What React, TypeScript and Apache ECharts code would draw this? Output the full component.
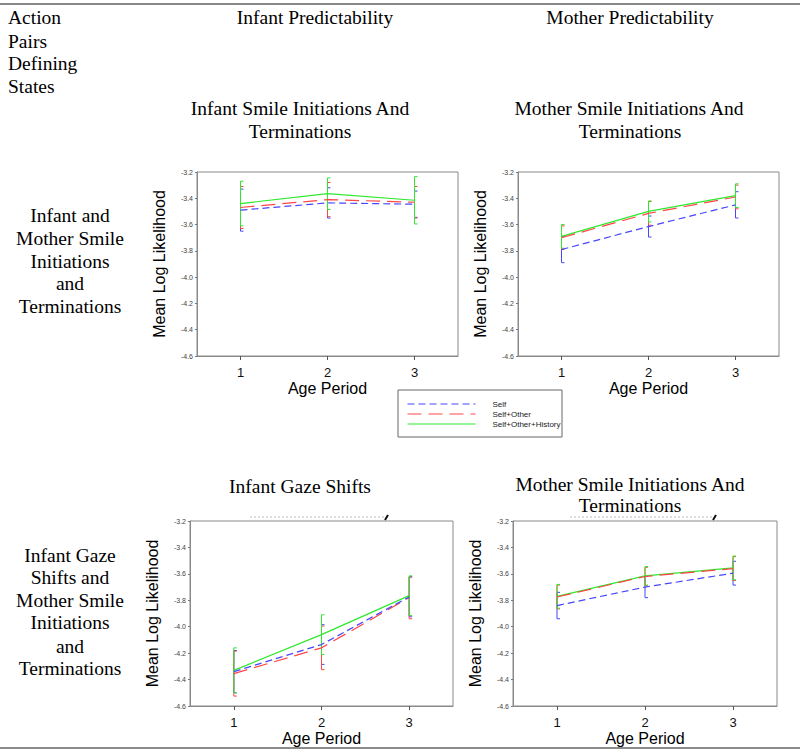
import React, { useEffect, useRef } from "react";
import * as echarts from "echarts";

const ageCategories = ["1", "2", "3"];
const seriesNames = ["Self", "Self+Other", "Self+Other+History"];
const seriesColors = ["#4646ff", "#ff4646", "#2ee82e"];

// Panel 1: Infant predictability, infant smile initiations/terminations
const p1Self = [-3.49, -3.435, -3.445];
const p1SelfErr = [0.16, 0.115, 0.1];
const p1Other = [-3.47, -3.41, -3.43];
const p1OtherErr = [0.16, 0.13, 0.12];
const p1Hist = [-3.44, -3.365, -3.415];
const p1HistErr = [0.17, 0.12, 0.18];

// Panel 2: Mother predictability, mother smile initiations/terminations
const p2Self = [-3.79, -3.615, -3.45];
const p2SelfErr = [0.1, 0.08, 0.1];
const p2Other = [-3.7, -3.515, -3.39];
const p2OtherErr = [0.09, 0.09, 0.09];
const p2Hist = [-3.69, -3.5, -3.38];
const p2HistErr = [0.09, 0.08, 0.09];

// Panel 3: Infant predictability, infant gaze shifts
const p3Self = [-4.34, -4.135, -3.775];
const p3SelfErr = [0.16, 0.15, 0.15];
const p3Other = [-4.355, -4.16, -3.78];
const p3OtherErr = [0.17, 0.165, 0.16];
const p3Hist = [-4.33, -4.06, -3.765];
const p3HistErr = [0.17, 0.15, 0.15];

// Panel 4: Mother predictability, mother smile initiations/terminations
const p4Self = [-3.84, -3.7, -3.595];
const p4SelfErr = [0.1, 0.08, 0.09];
const p4Other = [-3.775, -3.62, -3.56];
const p4OtherErr = [0.09, 0.07, 0.09];
const p4Hist = [-3.77, -3.615, -3.555];
const p4HistErr = [0.09, 0.07, 0.09];

const yMin = -4.6;
const yMax = -3.2;
const yStep = 0.2;

const panels = [
  { means: [p1Self, p1Other, p1Hist], errs: [p1SelfErr, p1OtherErr, p1HistErr], grid: { left: 197, top: 172, width: 261, height: 184 } },
  { means: [p2Self, p2Other, p2Hist], errs: [p2SelfErr, p2OtherErr, p2HistErr], grid: { left: 518, top: 172, width: 261, height: 184 } },
  { means: [p3Self, p3Other, p3Hist], errs: [p3SelfErr, p3OtherErr, p3HistErr], grid: { left: 190, top: 521, width: 263, height: 185 } },
  { means: [p4Self, p4Other, p4Hist], errs: [p4SelfErr, p4OtherErr, p4HistErr], grid: { left: 513, top: 521, width: 264, height: 185 } },
];

const dashes: any[] = [[7, 4], [14, 7], "solid"];

const serif = "'Liberation Serif', 'Times New Roman', serif";
const sans = "'Liberation Sans', Arial, sans-serif";

function txt(text: string, x: number, y: number, align = "center", size = 19.5) {
  return {
    type: "text",
    x,
    y,
    style: { text, fill: "#000", font: `${size}px ${serif}`, textAlign: align, textVerticalAlign: "middle" },
  };
}

export default function App() {
  const ref = useRef<HTMLDivElement>(null);
  useEffect(() => {
    if (!ref.current) return;
    const chart = echarts.init(ref.current, null, { renderer: "svg" });

    const grids: any[] = [];
    const xAxes: any[] = [];
    const yAxes: any[] = [];
    const series: any[] = [];

    panels.forEach((p, pi) => {
      grids.push({ ...p.grid, show: true, borderColor: "#8a8a8a", borderWidth: 1, containLabel: false });
      xAxes.push({
        type: "category",
        gridIndex: pi,
        data: ageCategories,
        boundaryGap: true,
        axisLine: { show: true, lineStyle: { color: "#8a8a8a", width: 1 } },
        axisTick: { show: true, alignWithLabel: true, length: 4, lineStyle: { color: "#555" } },
        axisLabel: { fontSize: 13, margin: 10, color: "#111", fontFamily: sans },
        splitLine: { show: false },
        name: "Age Period",
        nameLocation: "middle",
        nameGap: 24,
        nameTextStyle: { fontSize: 16, color: "#000", fontFamily: sans },
      });
      yAxes.push({
        type: "value",
        gridIndex: pi,
        min: yMin,
        max: yMax,
        interval: yStep,
        axisLine: { show: true, lineStyle: { color: "#8a8a8a", width: 1 } },
        axisTick: { show: true, length: 2, lineStyle: { color: "#777" } },
        axisLabel: { fontSize: 7, margin: 4, color: "#444", fontFamily: sans, formatter: (v: number) => v.toFixed(1) },
        splitLine: { show: false },
        name: "Mean Log Likelihood",
        nameLocation: "middle",
        nameGap: 30,
        nameTextStyle: { fontSize: 16, color: "#000", fontFamily: sans },
      });
      p.means.forEach((m, si) => {
        series.push({
          type: "custom",
          name: "err" + pi + "_" + si,
          xAxisIndex: pi,
          yAxisIndex: pi,
          data: m.map((v, i) => [i, v, p.errs[si][i]]),
          encode: { x: 0, y: 1 },
          z: 1,
          renderItem: (params: any, api: any) => {
            const idx = api.value(0);
            const mean = api.value(1);
            const e = api.value(2);
            const top = api.coord([idx, mean + e]);
            const bot = api.coord([idx, mean - e]);
            const st = { stroke: seriesColors[si], lineWidth: 1 };
            return {
              type: "group",
              children: [
                { type: "line", shape: { x1: top[0], y1: top[1], x2: bot[0], y2: bot[1] }, style: st },
                { type: "line", shape: { x1: top[0], y1: top[1], x2: top[0] + 3, y2: top[1] }, style: st },
                { type: "line", shape: { x1: bot[0], y1: bot[1], x2: bot[0] + 3, y2: bot[1] }, style: st },
              ],
            };
          },
        });
        series.push({
          type: "line",
          name: seriesNames[si],
          xAxisIndex: pi,
          yAxisIndex: pi,
          data: m,
          symbol: "none",
          z: 2 + (2 - si),
          lineStyle: { color: seriesColors[si], width: 1.2, type: dashes[si] },
          itemStyle: { color: seriesColors[si] },
        });
      });
    });

    chart.setOption({
      animation: false,
      backgroundColor: "#fff",
      grid: grids,
      xAxis: xAxes,
      yAxis: yAxes,
      series,
      legend: {
        data: seriesNames,
        orient: "vertical",
        left: 407,
        top: 400,
        itemWidth: 68,
        itemHeight: 8,
        itemGap: 2,
        padding: 0,
        selectedMode: false,
        itemStyle: { opacity: 0 },
        lineStyle: { width: 1 },
        textStyle: { fontSize: 8, lineHeight: 8, color: "#222", fontFamily: sans, padding: [0, 0, 0, 12] },
      },
      graphic: [
        { type: "line", shape: { x1: 0, y1: 4, x2: 800, y2: 4 }, style: { stroke: "#888", lineWidth: 2 } },
        { type: "line", shape: { x1: 0, y1: 748, x2: 800, y2: 748 }, style: { stroke: "#666", lineWidth: 1.5 } },
        { type: "rect", shape: { x: 398, y: 390, width: 164, height: 47 }, style: { fill: "none", stroke: "#666", lineWidth: 1 } },
        txt("Action", 8, 17, "left"),
        txt("Pairs", 8, 41, "left"),
        txt("Defining", 8, 63, "left"),
        txt("States", 8, 86, "left"),
        txt("Infant Predictability", 315, 17),
        txt("Mother Predictability", 630, 17),
        txt("Infant Smile Initiations And", 300, 108),
        txt("Terminations", 300, 131),
        txt("Mother Smile Initiations And", 629, 108),
        txt("Terminations", 630, 131),
        txt("Infant and", 70, 215),
        txt("Mother Smile", 70, 238),
        txt("Initiations", 70, 261),
        txt("and", 70, 283),
        txt("Terminations", 70, 306),
        txt("Infant Gaze Shifts", 300, 486),
        txt("Mother Smile Initiations And", 630, 484),
        txt("Terminations", 630, 505),
        txt("Infant Gaze", 70, 555),
        txt("Shifts and", 70, 577),
        txt("Mother Smile", 70, 600),
        txt("Initiations", 70, 622),
        txt("and", 70, 646),
        txt("Terminations", 70, 668),
        { type: "line", shape: { x1: 250, y1: 517, x2: 386, y2: 517 }, style: { stroke: "#bbb", lineWidth: 1, lineDash: [2, 2] } },
        { type: "line", shape: { x1: 385, y1: 520, x2: 388, y2: 515 }, style: { stroke: "#111", lineWidth: 2 } },
        { type: "line", shape: { x1: 570, y1: 517, x2: 713, y2: 517 }, style: { stroke: "#bbb", lineWidth: 1, lineDash: [2, 2] } },
        { type: "line", shape: { x1: 713, y1: 520, x2: 716, y2: 515 }, style: { stroke: "#111", lineWidth: 2 } },
      ],
    });
    return () => chart.dispose();
  }, []);
  return <div ref={ref} style={{ width: 800, height: 755, position: "absolute", left: 0, top: 0 }} />;
}
